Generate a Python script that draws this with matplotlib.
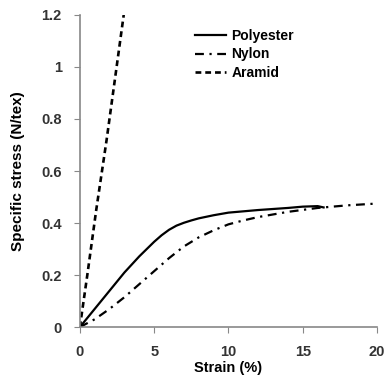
import matplotlib
matplotlib.use("Agg")
import matplotlib.pyplot as plt

plt.rcParams['font.family'] = ['Liberation Sans', 'DejaVu Sans']
plt.rcParams['font.weight'] = 'bold'

# strain (%) and specific stress (N/tex)
polyester_x = [0, 1, 2, 3, 4, 5, 5.5, 6, 6.5, 7, 7.5, 8, 9, 10, 12, 14, 15, 16, 16.4]
polyester_y = [0, 0.07, 0.14, 0.21, 0.272, 0.328, 0.353, 0.374, 0.39, 0.401, 0.41, 0.418, 0.43, 0.44, 0.45, 0.458, 0.463, 0.465, 0.46]

nylon_x = [0, 1, 2, 3, 4, 5, 6, 7, 8, 9, 10, 11, 12, 14, 16, 18, 20]
nylon_y = [0, 0.03, 0.07, 0.115, 0.165, 0.215, 0.265, 0.31, 0.345, 0.372, 0.395, 0.41, 0.423, 0.443, 0.458, 0.468, 0.475]

aramid_x = [0, 0.5, 1.1, 1.8, 2.4, 2.95]
aramid_y = [0, 0.2, 0.45, 0.72, 0.97, 1.2]

xticks = [0, 5, 10, 15, 20]
yticks = [0, 0.2, 0.4, 0.6, 0.8, 1.0, 1.2]
ytick_labels = ['0', '0.2', '0.4', '0.6', '0.8', '1', '1.2']

fig = plt.figure(figsize=(3.84, 3.83), dpi=100)
ax = fig.add_axes([0.208, 0.146, 0.774, 0.815])

ax.plot(polyester_x, polyester_y, color='black', lw=1.6, ls='-', label='Polyester')
ax.plot(nylon_x, nylon_y, color='black', lw=1.6, ls=(0, (4, 2.5, 1, 2.5)), label='Nylon')
ax.plot(aramid_x, aramid_y, color='black', lw=1.9, ls=(0, (2.2, 1.5)), label='Aramid')

ax.set_xlim(0, 20)
ax.set_ylim(0, 1.2)
ax.set_xticks(xticks)
ax.set_xticklabels([str(t) for t in xticks])
ax.set_yticks(yticks)
ax.set_yticklabels(ytick_labels)

for s in ['top', 'right']:
    ax.spines[s].set_visible(False)
for s in ['left', 'bottom']:
    ax.spines[s].set_color('#888888')
    ax.spines[s].set_linewidth(1.2)
ax.tick_params(direction='out', length=4, color='#888888', labelsize=10.5, labelcolor='#333333', pad=9)

ax.set_xlabel('Strain (%)', fontsize=10.5, fontweight='bold', labelpad=1)
ax.set_ylabel('Specific stress (N/tex)', fontsize=11, fontweight='bold', labelpad=12)

ax.legend(loc='upper left', bbox_to_anchor=(0.37, 0.972), frameon=False, fontsize=10,
          handlelength=2.2, handletextpad=0.4, labelspacing=0.3, borderaxespad=0)

fig.savefig('out.png', dpi=100)
